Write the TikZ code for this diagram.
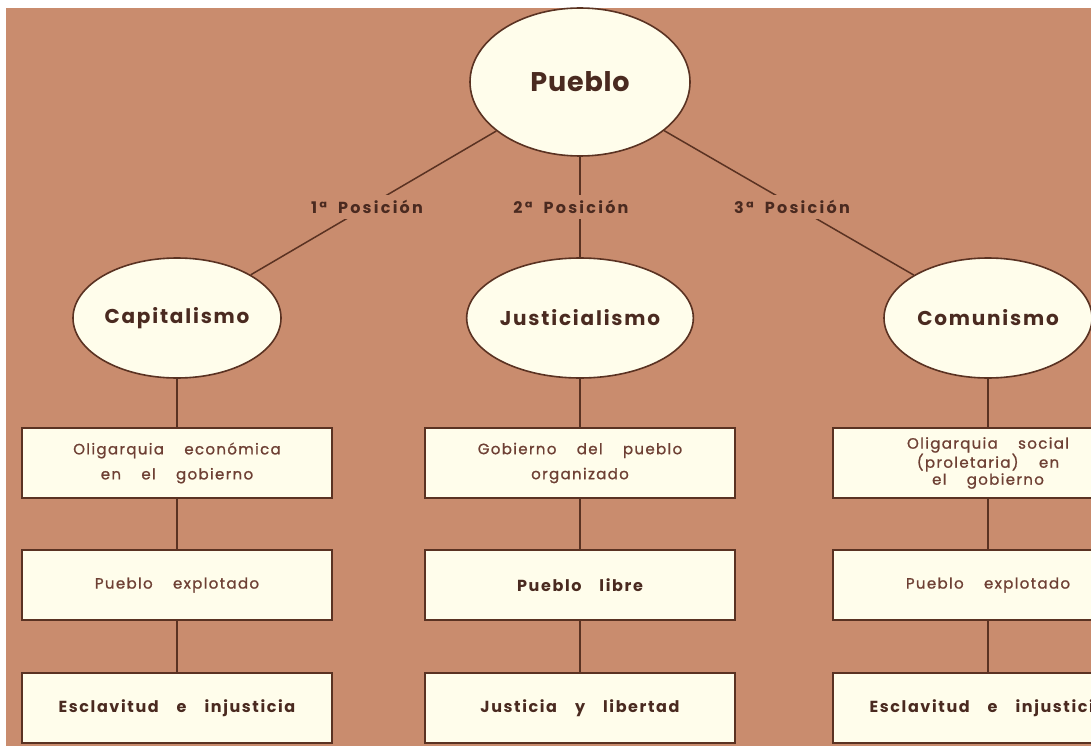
\documentclass[tikz,border=0pt]{standalone}
\usepackage{fontspec}
\setmainfont{Poppins}
\newfontfamily\boxff[LetterSpace=9,WordSpace=3.8,FakeBold=1]{Poppins}
\newfontfamily\boxbff[LetterSpace=10,WordSpace=3.6,BoldFeatures={LetterSpace=10,WordSpace=3.6}]{Poppins}
\newfontfamily\labff[LetterSpace=14,WordSpace=2]{Poppins}
\newfontfamily\circff[LetterSpace=9]{Poppins}
\newfontfamily\bigff[LetterSpace=3]{Poppins}
\usetikzlibrary{shapes.geometric}
\definecolor{bg}{HTML}{C98C6E}
\definecolor{cream}{HTML}{FFFDEB}
\definecolor{ink}{HTML}{5A3222}
\definecolor{txt}{HTML}{4A2A20}
\definecolor{txtl}{HTML}{6E4034}
\begin{document}
\begin{tikzpicture}[x=1pt,y=-1pt,
  bubble/.style={ellipse, draw=ink, line width=1.6pt, fill=cream,
    minimum width=208pt, minimum height=120pt, inner sep=0pt,
    font=\circff\fontsize{20}{22}\selectfont\bfseries, text=txt},
  big/.style={bubble, minimum width=220pt, minimum height=148pt,
    font=\bigff\fontsize{27}{29}\selectfont\bfseries},
  box/.style={rectangle, draw=ink, line width=1.6pt, fill=cream,
    minimum width=310pt, minimum height=70pt, inner sep=0pt, align=center,
    text=txtl, font=\boxff\fontsize{15}{25}\selectfont},
  boxb/.style={box, text=txt, font=\boxbff\fontsize{16}{25}\selectfont\bfseries},
  lab/.style={fill=bg, inner xsep=4pt, inner ysep=5pt, text=txt,
    font=\labff\fontsize{16}{18}\selectfont\bfseries},
  conn/.style={draw=ink, line width=1.5pt}]
\clip (0,0) rectangle (1091,746);
\fill[white] (0,0) rectangle (1091,746);
\fill[bg] (6,8) rectangle (1091,746);
% circles
\node[big] (pueblo) at (580,82) {Pueblo};
\node[bubble] (cap) at (177,318) {Capitalismo};
\node[bubble] (jus) at (580,318) {Justicialismo};
\node[bubble] (com) at (988,318) {Comunismo};
% boxes column 1
\node[box] (c1a) at (177,463) {Oligarquia económica\\en el gobierno};
\node[box] (c1b) at (177,585) {Pueblo explotado};
\node[boxb] (c1c) at (177,708) {Esclavitud e injusticia};
% column 2
\node[box] (c2a) at (580,463) {Gobierno del pueblo\\organizado};
\node[boxb] (c2b) at (580,585) {Pueblo libre};
\node[boxb] (c2c) at (580,708) {Justicia y libertad};
% column 3
\node[box, font=\boxff\fontsize{15}{17}\selectfont] (c3a) at (988,463) {Oligarquia social\\(proletaria) en\\el gobierno};
\node[box] (c3b) at (988,585) {Pueblo explotado};
\node[boxb] (c3c) at (988,708) {Esclavitud e injusticia};
% connectors
\draw[conn] (pueblo) -- (cap);
\draw[conn] (pueblo) -- (com);
\draw[conn] (pueblo.south) -- (jus.north);
\draw[conn] (cap.south) -- (c1a.north);
\draw[conn] (c1a.south) -- (c1b.north);
\draw[conn] (c1b.south) -- (c1c.north);
\draw[conn] (jus.south) -- (c2a.north);
\draw[conn] (c2a.south) -- (c2b.north);
\draw[conn] (c2b.south) -- (c2c.north);
\draw[conn] (com.south) -- (c3a.north);
\draw[conn] (c3a.south) -- (c3b.north);
\draw[conn] (c3b.south) -- (c3c.north);
% position labels
\node[lab] (p1) at (367,207) {1ª Posición};
\node[lab] (p2) at (571,207) {2ª Posición};
\node[lab] (p3) at (792,207) {3ª Posición};
\end{tikzpicture}
\end{document}
